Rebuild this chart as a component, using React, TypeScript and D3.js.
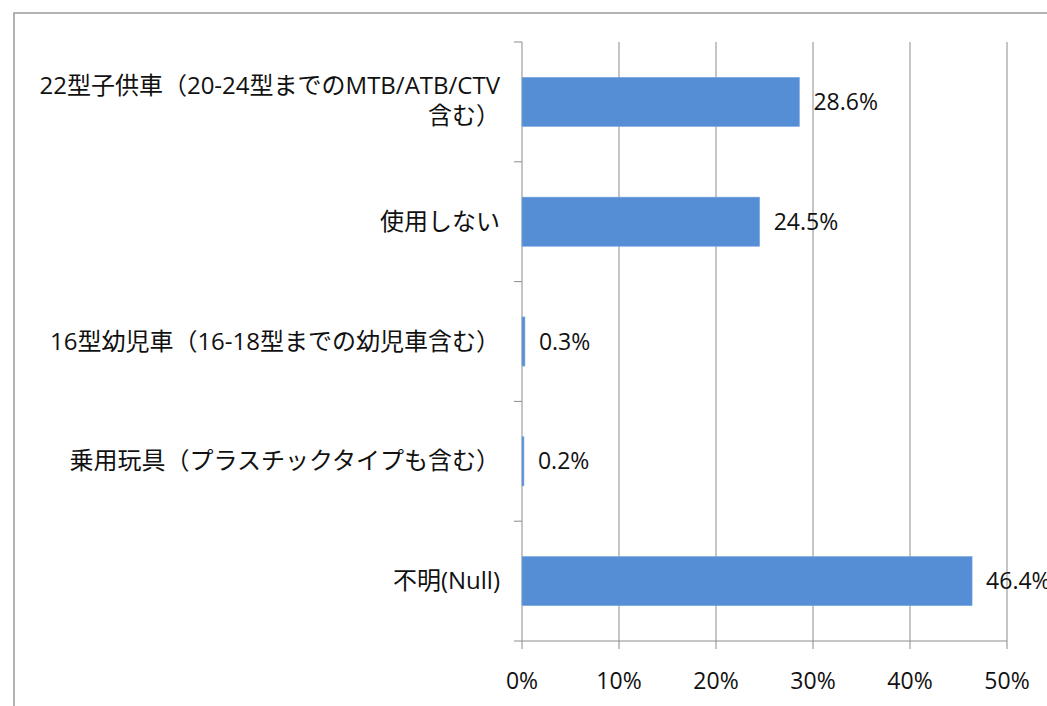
import React from "react";
import * as d3 from "d3";

const categories: string[][] = [
  ["22型子供車（20-24型までのMTB/ATB/CTV", "含む）"],
  ["使用しない"],
  ["16型幼児車（16-18型までの幼児車含む）"],
  ["乗用玩具（プラスチックタイプも含む）"],
  ["不明(Null)"],
];
const values: number[] = [28.6, 24.5, 0.3, 0.2, 46.4];
const xTicks: number[] = [0, 10, 20, 30, 40, 50];

const W = 1047;
const H = 706;
const FONT = "'Open Sans', 'Noto Sans CJK JP', sans-serif";

export default function App() {
  const left = 522;
  const right = 1007;
  const top = 42;
  const bottom = 641;
  const x = d3.scaleLinear().domain([0, 50]).range([left, right]);
  const idx = categories.map((_, i) => i);
  const y = d3.scaleBand<number>().domain(idx).range([top, bottom]).paddingInner(0.59).paddingOuter(0.295);
  const band = d3.scaleBand<number>().domain(idx).range([top, bottom]);
  const grid = "#8c8c8c";

  return (
    <svg width={W} height={H} style={{ position: "absolute", left: 0, top: 0 }} fontFamily={FONT}>
      <rect x={0} y={0} width={W} height={H} fill="#fff" />
      <rect x={14} y={13} width={W + 20} height={H + 20} fill="none" stroke="#9a9a9a" strokeWidth={1.5} />
      {xTicks.map((t) => (
        <g key={t}>
          <line x1={x(t)} x2={x(t)} y1={top} y2={bottom + 8} stroke={grid} strokeWidth={1} />
          <text x={x(t)} y={689} textAnchor="middle" fontSize={23} fill="#111">
            {t}%
          </text>
        </g>
      ))}
      <line x1={left - 8} x2={right} y1={bottom} y2={bottom} stroke={grid} strokeWidth={1} />
      {idx.map((i) => (
        <line key={"t" + i} x1={left - 8} x2={left} y1={band(i)!} y2={band(i)!} stroke={grid} strokeWidth={1} />
      ))}
      {values.map((v, i) => {
        const yc = y(i)! + y.bandwidth() / 2;
        return (
          <g key={"b" + i}>
            <rect
              x={x(0)}
              y={y(i)!}
              width={x(v) - x(0)}
              height={y.bandwidth()}
              fill="#558ed5"
              stroke="#7aa7e0"
              strokeWidth={0.6}
            />
            <text x={x(v) + 14} y={yc + 8} fontSize={23} fill="#111">
              {v.toFixed(1)}%
            </text>
          </g>
        );
      })}
      {categories.map((lines, i) => {
        const yc = band(i)! + band.bandwidth() / 2;
        const lh = 30;
        const y0 = yc - ((lines.length - 1) * lh) / 2 + 8;
        return (
          <text key={"c" + i} x={500} textAnchor="end" fontSize={24} fill="#111">
            {lines.map((l, k) => (
              <tspan key={k} x={500} y={y0 + k * lh - (lines.length > 1 ? 1 : 0)}>
                {l}
              </tspan>
            ))}
          </text>
        );
      })}
    </svg>
  );
}
